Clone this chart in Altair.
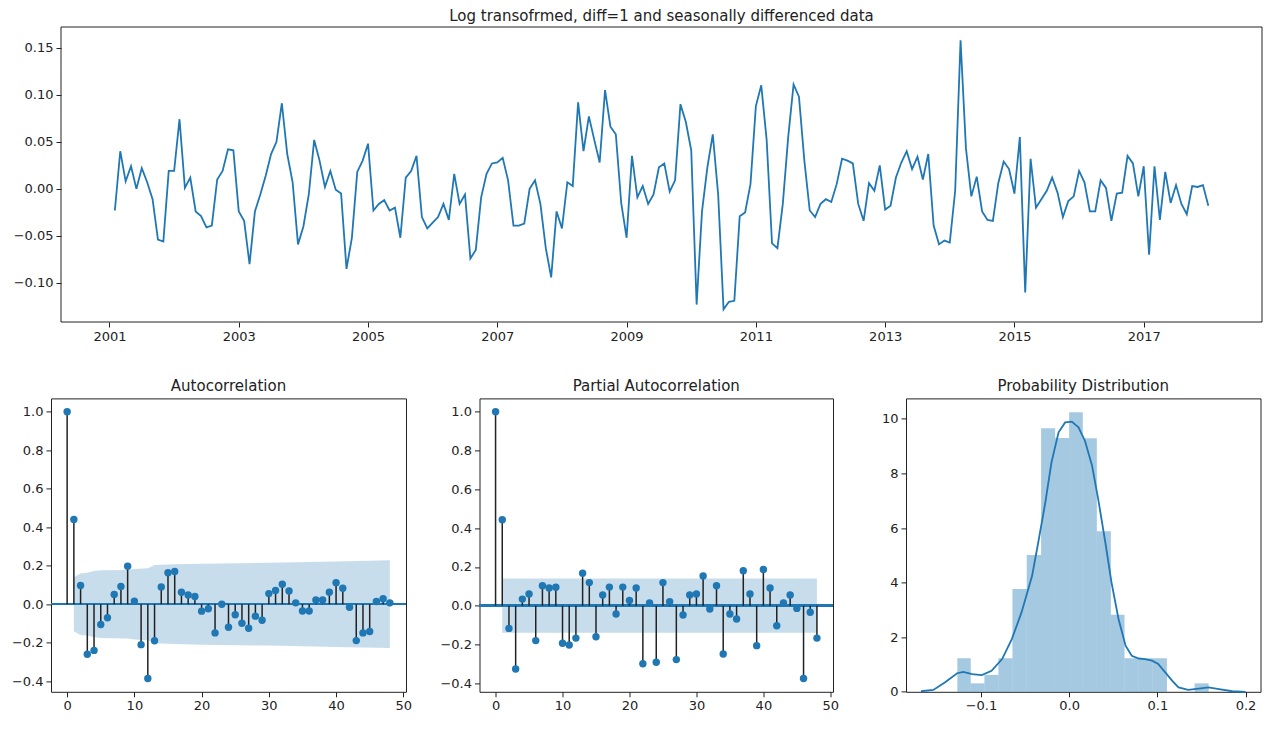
import altair as alt
import pandas as pd

# ---------------------------------------------------------------------------
# data
# ---------------------------------------------------------------------------

# monthly log-diff / seasonal-diff series, Jan 2001 .. Dec 2017
series = [
    -0.023, 0.040, 0.008, 0.024, 0.000, 0.022, 0.007, -0.011, -0.054, -0.056,
    0.019, 0.019, 0.074, 0.001, 0.012, -0.024, -0.029, -0.041, -0.039, 0.010,
    0.019, 0.042, 0.041, -0.024, -0.034, -0.080, -0.024, -0.006, 0.014, 0.037,
    0.050, 0.091, 0.037, 0.007, -0.059, -0.040, -0.006, 0.052, 0.030, 0.002,
    0.019, -0.001, -0.005, -0.085, -0.052, 0.018, 0.030, 0.048, -0.023, -0.016,
    -0.012, -0.023, -0.020, -0.052, 0.012, 0.019, 0.035, -0.030, -0.042, -0.036,
    -0.030, -0.016, -0.033, 0.016, -0.016, -0.006, -0.074, -0.065, -0.009, 0.016,
    0.027, 0.028, 0.033, 0.009, -0.039, -0.039, -0.037, 0.000, 0.009, -0.016,
    -0.063, -0.094, -0.024, -0.042, 0.007, 0.003, 0.092, 0.040, 0.077, 0.052,
    0.028, 0.105, 0.066, 0.058, -0.015, -0.052, 0.035, -0.009, 0.003, -0.016,
    -0.006, 0.023, 0.027, -0.003, 0.009, 0.090, 0.071, 0.041, -0.123, -0.024,
    0.023, 0.058, -0.006, -0.128, -0.120, -0.119, -0.029, -0.025, 0.005, 0.088,
    0.110, 0.052, -0.058, -0.063, -0.016, 0.055, 0.111, 0.098, 0.030, -0.023,
    -0.030, -0.016, -0.011, -0.014, 0.005, 0.032, 0.030, 0.027, -0.016, -0.034,
    0.006, -0.002, 0.025, -0.022, -0.018, 0.012, 0.028, 0.040, 0.021, 0.034,
    0.010, 0.037, -0.039, -0.059, -0.055, -0.057, -0.002, 0.158, 0.043, -0.008,
    0.013, -0.024, -0.033, -0.034, 0.006, 0.029, 0.021, -0.005, 0.055, -0.110,
    0.032, -0.020, -0.011, -0.002, 0.012, -0.004, -0.030, -0.013, -0.008, 0.019,
    0.007, -0.024, -0.024, 0.009, 0.001, -0.034, -0.005, -0.004, 0.035, 0.027,
    -0.008, 0.024, -0.070, 0.024, -0.033, 0.018, -0.015, 0.004, -0.016, -0.027,
    0.003, 0.002, 0.004, -0.018,
]
year_ticks = [2001, 2003, 2005, 2007, 2009, 2011, 2013, 2015, 2017]
top_title = 'Log transofrmed, diff=1 and seasonally differenced data'

# autocorrelation, lags 0..48
acf_vals = [
    1.0, 0.44, 0.097, -0.26, -0.24, -0.105, -0.07, 0.05, 0.092, 0.197,
    0.016, -0.21, -0.386, -0.19, 0.09, 0.163, 0.17, 0.062, 0.048, 0.04,
    -0.036, -0.024, -0.149, 0.0, -0.12, -0.055, -0.099, -0.125, -0.062, -0.083,
    0.055, 0.071, 0.104, 0.069, 0.007, -0.035, -0.035, 0.022, 0.022, 0.062,
    0.112, 0.083, -0.016, -0.189, -0.149, -0.142, 0.014, 0.028, 0.007,
]
acf_band_lags = [1, 2, 3, 4, 5, 9, 10, 12, 13, 16, 20, 30, 40, 48]
acf_band_width = [0.14, 0.16, 0.163, 0.172, 0.176, 0.178, 0.183, 0.187,
                  0.203, 0.207, 0.21, 0.215, 0.222, 0.228]

# partial autocorrelation, lags 0..48
pacf_vals = [
    1.0, 0.443, -0.117, -0.326, 0.034, 0.06, -0.18, 0.103, 0.091, 0.095,
    -0.194, -0.203, -0.167, 0.167, 0.119, -0.16, 0.055, 0.096, -0.043, 0.096,
    0.027, 0.091, -0.299, 0.014, -0.292, 0.119, 0.021, -0.278, -0.048, 0.055,
    0.06, 0.153, -0.017, 0.103, -0.249, -0.043, -0.069, 0.18, 0.06, -0.206,
    0.187, 0.091, -0.103, 0.014, 0.055, -0.014, -0.375, -0.034, -0.167,
]
pacf_band_lags = [1, 48]
pacf_band_width = [0.14, 0.14]

# histogram (density) and kde
bin_edges = [-0.1268, -0.1116, -0.0961, -0.0802, -0.0643, -0.0481, -0.0318,
             -0.0159, 0.0, 0.0155, 0.0314, 0.0473, 0.0628, 0.0787, 0.0946,
             0.1109, 0.1268, 0.1423, 0.1582]
density = [1.23, 0.31, 0.62, 1.23, 3.77, 5.01, 9.66, 9.30, 10.24, 9.29,
           5.88, 2.82, 1.23, 1.23, 1.23, 0.0, 0.0, 0.31]
kde_x = [-0.168, -0.154, -0.141, -0.127, -0.12, -0.11, -0.099, -0.088, -0.076,
         -0.065, -0.054, -0.042, -0.035, -0.027, -0.02, -0.012, -0.0045, 0.003,
         0.0106, 0.018, 0.026, 0.033, 0.041, 0.048, 0.056, 0.064, 0.071, 0.079,
         0.086, 0.094, 0.101, 0.109, 0.117, 0.124, 0.135, 0.147, 0.158, 0.17,
         0.185, 0.2]
kde_y = [0.02, 0.07, 0.34, 0.68, 0.73, 0.65, 0.61, 0.77, 1.2, 1.93, 2.91, 4.25,
         5.48, 6.94, 8.41, 9.51, 9.87, 9.9, 9.69, 9.19, 8.28, 7.05, 5.48, 4.01,
         2.67, 1.69, 1.32, 1.22, 1.2, 1.14, 1.02, 0.71, 0.4, 0.16, 0.07, 0.12,
         0.16, 0.1, 0.02, 0.0]

# ---------------------------------------------------------------------------
# tables
# ---------------------------------------------------------------------------
BLUE = '#1f77b4'
INK = '#222222'
FONT = 'DejaVu Sans'

months = pd.period_range('2001-01', periods=len(series), freq='M')
ts_df = pd.DataFrame({
    't': [p.year + p.month / 12 for p in months],
    'value': series,
})

def corr_frame(vals):
    return pd.DataFrame({'lag': list(range(len(vals))), 'value': vals, 'zero': 0.0})

def band_frame(lags, width):
    return pd.DataFrame({'lag': lags, 'lo': [-w for w in width], 'hi': width})

hist_df = pd.DataFrame({'x0': bin_edges[:-1], 'x1': bin_edges[1:],
                        'density': density, 'zero': 0.0})
kde_df = pd.DataFrame({'x': kde_x, 'y': kde_y})

# ---------------------------------------------------------------------------
# top: time series
# the panel is 10px wider on the left than its frame, so that its frame
# can start right of the lower panels' frames (as in matplotlib)
# ---------------------------------------------------------------------------
SHIFT = 10
TOP_W, TOP_H = 1211, 295
x_lo, x_hi = 2000.25, 2018.83
x_lo_ext = x_lo - SHIFT * (x_hi - x_lo) / (TOP_W - SHIFT)

ts_line = alt.Chart(ts_df).mark_line(color=BLUE, strokeWidth=1.8).encode(
    x=alt.X('t:Q', title=None,
            scale=alt.Scale(domain=[x_lo_ext, x_hi], nice=False, zero=False),
            axis=alt.Axis(values=year_ticks, format='d')),
    y=alt.Y('value:Q', title=None,
            scale=alt.Scale(domain=[-0.1415, 0.172], nice=False, zero=False),
            axis=alt.Axis(values=[-0.10, -0.05, 0.0, 0.05, 0.10, 0.15], format='.2f',
                          offset=-SHIFT)),
)
frame = alt.Chart(pd.DataFrame({'k': [0]})).mark_rect(
    filled=False, stroke=INK, strokeWidth=1,
).encode(
    x=alt.value(SHIFT), x2=alt.value(TOP_W), y=alt.value(0), y2=alt.value(TOP_H),
)
ts_title = alt.Chart(pd.DataFrame({'label': [top_title]})).mark_text(
    font=FONT, fontSize=15, color=INK, align='center', baseline='middle',
).encode(
    text='label:N', x=alt.value(SHIFT + (TOP_W - SHIFT) / 2), y=alt.value(-11.5),
)
top = alt.layer(ts_line, frame, ts_title).properties(
    width=TOP_W, height=TOP_H, view=alt.ViewBackground(stroke='transparent'))

# ---------------------------------------------------------------------------
# correlation panels
# ---------------------------------------------------------------------------
def corr_panel(vals, lags, width, ymin, title, w):
    xs = alt.Scale(domain=[-2.4, 50.4], nice=False, zero=False)
    ys = alt.Scale(domain=[ymin, 1.069], nice=False, zero=False)
    xax = alt.Axis(values=[0, 10, 20, 30, 40, 50], format='d')
    yax = alt.Axis(values=[-0.4, -0.2, 0.0, 0.2, 0.4, 0.6, 0.8, 1.0], format='.1f',
                   minExtent=40)
    band = alt.Chart(band_frame(lags, width)).mark_area(color=BLUE, opacity=0.25).encode(
        x=alt.X('lag:Q', scale=xs, axis=xax, title=None),
        y=alt.Y('lo:Q', scale=ys, axis=yax, title=None),
        y2='hi:Q',
    )
    base = alt.Chart(corr_frame(vals))
    zero = base.mark_rule(color=BLUE, strokeWidth=1.8).encode(y=alt.datum(0))
    stems = base.mark_rule(color=INK, strokeWidth=1.5).encode(
        x='lag:Q', y='value:Q', y2='zero:Q')
    dots = base.mark_circle(color=BLUE, size=55, opacity=1).encode(
        x='lag:Q', y='value:Q')
    return alt.layer(band, zero, stems, dots).properties(
        width=w, height=293.4, title=title)

acf = corr_panel(acf_vals, acf_band_lags, acf_band_width, -0.455,
                 'Autocorrelation', 355)
pacf = corr_panel(pacf_vals, pacf_band_lags, pacf_band_width, -0.444,
                  'Partial Autocorrelation', 353.5)

# ---------------------------------------------------------------------------
# distribution panel
# ---------------------------------------------------------------------------
hx = alt.Scale(domain=[-0.185, 0.217], nice=False, zero=False)
hy = alt.Scale(domain=[0, 10.75], nice=False)
bars = alt.Chart(hist_df).mark_rect(color=BLUE, opacity=0.4).encode(
    x=alt.X('x0:Q', scale=hx, title=None,
            axis=alt.Axis(values=[-0.1, 0.0, 0.1, 0.2], format='.1f')),
    x2='x1:Q',
    y=alt.Y('density:Q', scale=hy, title=None,
            axis=alt.Axis(values=[0, 2, 4, 6, 8, 10], format='d', minExtent=40)),
    y2='zero:Q',
)
kde = alt.Chart(kde_df).mark_line(color=BLUE, strokeWidth=1.8).encode(
    x='x:Q', y='y:Q')
dist = alt.layer(bars, kde).properties(width=354.5, height=293.4,
                                       title='Probability Distribution')

# ---------------------------------------------------------------------------
# compose
# ---------------------------------------------------------------------------
bottom = alt.hconcat(acf, pacf, dist, spacing=25.5)

chart = alt.concat(top, bottom, columns=1, spacing=34.4, align='none').properties(
    padding={'left': 2, 'top': 0, 'right': 5, 'bottom': 5},
).configure_view(
    stroke=INK, strokeWidth=1,
).configure_axis(
    domain=False, grid=False,
    labelFont=FONT, labelFontSize=13, labelColor=INK,
    tickColor=INK, tickSize=5, labelPadding=3,
).configure_title(
    font=FONT, fontSize=15, fontWeight='normal', color=INK,
    anchor='middle', offset=4,
)

chart.save('out.html', embed_options={'renderer': 'svg', 'actions': False})
